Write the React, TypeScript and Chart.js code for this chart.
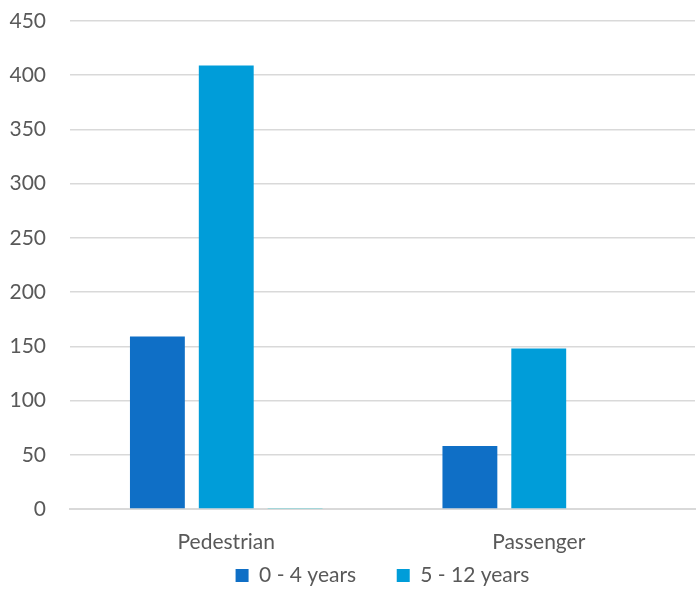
import React, { useEffect, useRef } from "react";
import { Chart, registerables } from "chart.js";

Chart.register(...registerables);

const categories = ["Pedestrian", "Passenger"];
const seriesNames = ["0 - 4 years", "5 - 12 years", "13+ years"];
const young = [159, 58];
const older = [409, 148];
const third = [1, 0];
const colors = ["#0F6FC6", "#009DD9", "#0BD0D9"];

export default function App() {
  const ref = useRef<HTMLCanvasElement>(null);
  useEffect(() => {
    const font = { family: "Lato, 'Open Sans', sans-serif", size: 21 };
    const chart = new Chart(ref.current!, {
      type: "bar",
      data: {
        labels: categories,
        datasets: [young, older, third].map((d, i) => ({
          label: seriesNames[i],
          data: d,
          backgroundColor: colors[i],
          borderWidth: 0,
          categoryPercentage: 0.661,
          barPercentage: 0.797,
        })),
      },
      options: {
        animation: false,
        responsive: false,
        layout: { padding: { top: 21, right: 5, left: 0, bottom: 0 } },
        plugins: {
          tooltip: { enabled: false },
          legend: {
            position: "bottom",
            fullSize: false,
            labels: {
              font,
              color: "#595959",
              boxWidth: 13,
              boxHeight: 13,
              padding: 3,
              generateLabels: (c: any) => {
                const items = Chart.defaults.plugins.legend.labels.generateLabels(c);
                return items
                  .filter((it: any) => it.datasetIndex < 2)
                  .map((it: any, i: number) => ({
                    ...it,
                    text: i === 0 ? it.text + "       " : it.text,
                  }));
              },
            },
          },
        },
        scales: {
          x: {
            grid: { display: false, drawTicks: false },
            border: { color: "#D9D9D9", width: 2 },
            ticks: { font, color: "#595959", padding: 21 },
            afterFit: (s: any) => {
              s.height = 53;
            },
          },
          y: {
            min: 0,
            max: 450,
            ticks: { stepSize: 50, font, color: "#595959", padding: 24 },
            grid: { color: "#D9D9D9", lineWidth: 1.5, drawTicks: false },
            border: { display: false },
            afterFit: (s: any) => {
              s.width = 70;
              s.paddingTop = 0;
              s.paddingBottom = 0;
            },
          },
        },
      },
    });
    return () => chart.destroy();
  }, []);
  return (
    <div style={{ position: "absolute", left: 0, top: 0, width: 700, height: 596, background: "#fff" }}>
      <canvas ref={ref} width={700} height={596} />
    </div>
  );
}
